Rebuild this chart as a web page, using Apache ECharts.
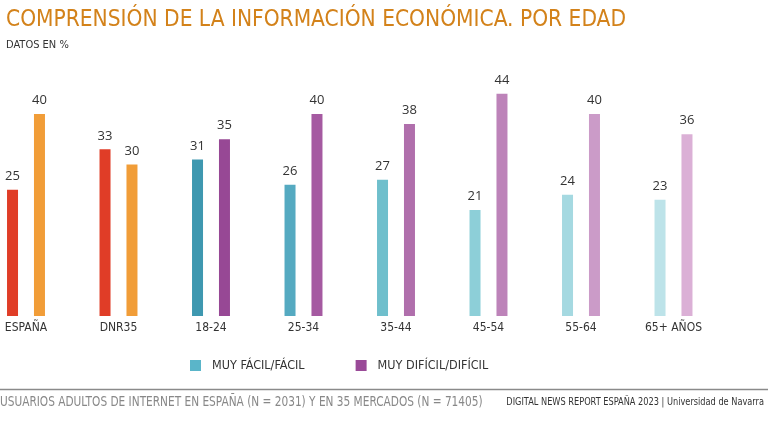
<!DOCTYPE html>
<html>
<head>
<meta charset="utf-8">
<script src="https://cdn.jsdelivr.net/npm/echarts@6/dist/echarts.min.js"></script>
<style>
html,body{margin:0;padding:0;background:#fff;}
#chart{width:768px;height:424px;}
</style>
</head>
<body>
<div id="chart"></div>
<script>
const categories = ['ESPAÑA', 'DNR35', '18-24', '25-34', '35-44', '45-54', '55-64', '65+ AÑOS'];
const seriesNames = ['MUY FÁCIL/FÁCIL', 'MUY DIFÍCIL/DIFÍCIL'];
const facil = [25, 33, 31, 26, 27, 21, 24, 23];
const dificil = [40, 30, 35, 40, 38, 44, 40, 36];

const facilColors = ['#e03d27', '#e03d27', '#3e98b0', '#55aac1', '#6fbfcc', '#8dcfd8', '#a5d9e1', '#bde3e9'];
const dificilColors = ['#f19d38', '#f19d38', '#974895', '#a55aa1', '#b06fac', '#bd83b9', '#cb9bc8', '#dbb0d6'];
const legendColors = ['#5ab5c9', '#9a4a98'];

const FONT = '"DejaVu Sans Condensed", "Open Sans", sans-serif';

const chart = echarts.init(document.getElementById('chart'), null, {renderer: 'canvas'});
const labelStyle = {show: true, position: 'top', distance: 7, fontSize: 13, color: '#333', fontFamily: 'Open Sans'};

chart.setOption({
  animation: false,
  title: {
    text: 'COMPRENSIÓN DE LA INFORMACIÓN ECONÓMICA. POR EDAD',
    subtext: 'DATOS EN %',
    left: 1,
    top: 4,
    itemGap: 8,
    textStyle: {fontFamily: FONT, fontSize: 22.5, fontWeight: 'normal', color: '#d3821a'},
    subtextStyle: {fontFamily: FONT, fontSize: 11, color: '#333'}
  },
  legend: {
    data: seriesNames,
    left: 190,
    top: 359,
    padding: 0,
    icon: 'rect',
    itemWidth: 11,
    itemHeight: 11,
    itemGap: 51,
    textStyle: {fontFamily: FONT, fontSize: 12.5, color: '#333', padding: [0, 0, 0, 6]}
  },
  grid: {left: 26, right: 94.5, top: 63.5, bottom: 108},
  xAxis: {
    type: 'category',
    data: categories,
    boundaryGap: false,
    axisLine: {show: false},
    axisTick: {show: false},
    axisLabel: {fontFamily: FONT, fontSize: 12, color: '#333', margin: 6}
  },
  yAxis: {
    type: 'value',
    min: 0,
    max: 50,
    show: false,
    splitLine: {show: false}
  },
  series: [
    {
      name: seriesNames[0],
      type: 'bar',
      barWidth: 11,
      barGap: '145%',
      itemStyle: {color: legendColors[0]},
      label: labelStyle,
      data: facil.map((v, i) => ({value: v, itemStyle: {color: facilColors[i]}}))
    },
    {
      name: seriesNames[1],
      type: 'bar',
      barWidth: 11,
      barGap: '145%',
      itemStyle: {color: legendColors[1]},
      label: labelStyle,
      data: dificil.map((v, i) => ({value: v, itemStyle: {color: dificilColors[i]}}))
    }
  ],
  graphic: [
    {type: 'line', shape: {x1: 0, y1: 389.5, x2: 768, y2: 389.5}, style: {stroke: '#8a8a8a', lineWidth: 1.5}},
    {type: 'text', x: 0, y: 395, scaleX: 0.87, style: {text: 'USUARIOS ADULTOS DE INTERNET EN ESPAÑA (N = 2031) Y EN 35 MERCADOS (N = 71405)', font: '13.5px ' + FONT, fill: '#888', textVerticalAlign: 'top'}},
    {type: 'text', x: 764, y: 397, scaleX: 0.87, style: {text: 'DIGITAL NEWS REPORT ESPAÑA 2023 | Universidad de Navarra', font: '10.5px ' + FONT, fill: '#333', textAlign: 'right', textVerticalAlign: 'top'}}
  ]
});
</script>
</body>
</html>
